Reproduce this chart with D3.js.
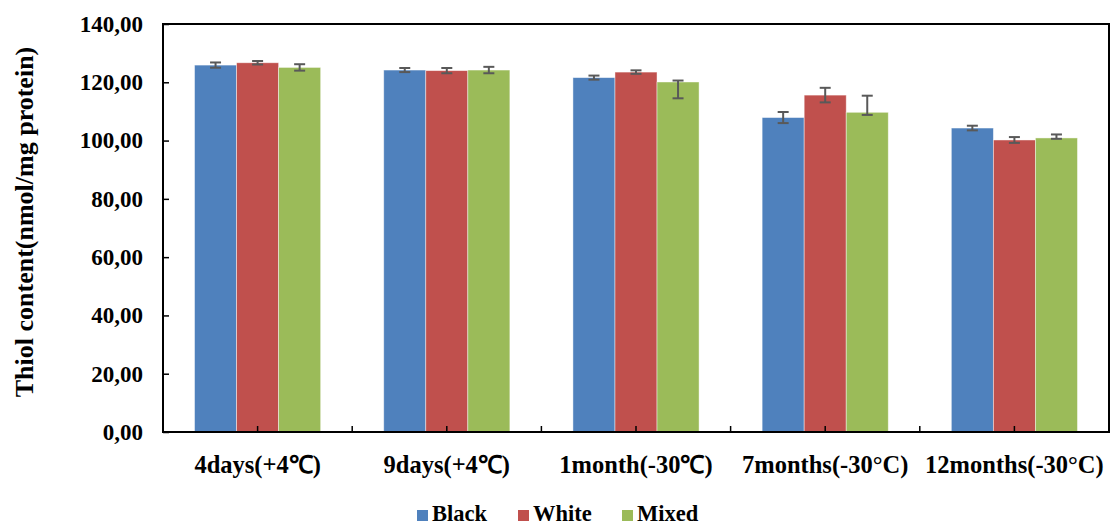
<!DOCTYPE html>
<html>
<head>
<meta charset="utf-8">
<script src="https://cdn.jsdelivr.net/npm/d3@7"></script>
<style>
  html, body { margin: 0; padding: 0; background: #fff; }
  svg { display: block; font-family: "Liberation Serif", "Times New Roman", serif; font-weight: bold; }
</style>
</head>
<body>
<svg id="chart" width="1113" height="526"></svg>
<script>
// Storage conditions (x categories)
const categories = ["4days(+4℃)", "9days(+4℃)", "1month(-30℃)", "7months(-30°C)", "12months(-30°C)"];
const seriesNames = ["Black", "White", "Mixed"];
const seriesColors = ["#4F81BD", "#C0504D", "#9BBB59"];

// Thiol content, nmol/mg protein
const blackValues = [125.9, 124.2, 121.6, 107.9, 104.3];
const whiteValues = [126.7, 124.0, 123.5, 115.6, 100.2];
const mixedValues = [125.1, 124.2, 120.1, 109.7, 100.9];

// Error bar extents above / below each mean
const blackErrUp   = [0.9, 0.7, 0.7, 1.9, 0.8];
const blackErrDown = [0.9, 0.7, 0.7, 1.9, 0.8];
const whiteErrUp   = [0.6, 0.9, 0.6, 2.5, 1.0];
const whiteErrDown = [0.6, 0.9, 0.6, 2.5, 1.0];
const mixedErrUp   = [1.1, 1.1, 0.5, 5.7, 1.2];
const mixedErrDown = [1.1, 1.1, 5.6, 0.9, 0.3];

const yTickValues = [0, 20, 40, 60, 80, 100, 120, 140];
const yTitle = "Thiol content(nmol/mg protein)";

const seriesValues = [blackValues, whiteValues, mixedValues];
const seriesUp = [blackErrUp, whiteErrUp, mixedErrUp];
const seriesDown = [blackErrDown, whiteErrDown, mixedErrDown];

const svg = d3.select("#chart");
const plot = { left: 163, right: 1109, top: 24, bottom: 432 };

const x0 = d3.scaleBand().domain(categories).range([plot.left, plot.right]).padding(0);
const bw = x0.bandwidth();
const x1 = d3.scaleBand().domain(seriesNames).range([bw / 6, bw * 5 / 6]).padding(0);
const y = d3.scaleLinear().domain([0, 140]).range([plot.bottom, plot.top]);

const rows = [];
categories.forEach((c, i) => {
  seriesNames.forEach((s, j) => {
    rows.push({ cat: c, series: s, color: seriesColors[j],
      value: seriesValues[j][i], up: seriesUp[j][i], down: seriesDown[j][i] });
  });
});

// Bars
svg.append("g").selectAll("rect").data(rows).join("rect")
  .attr("x", d => x0(d.cat) + x1(d.series))
  .attr("y", d => y(d.value))
  .attr("width", x1.bandwidth())
  .attr("height", d => y(0) - y(d.value))
  .attr("fill", d => d.color)
  .attr("stroke", "rgba(255,255,255,0.55)")
  .attr("stroke-width", 0.8);

// Error bars
const capHalf = 5.5;
const eb = svg.append("g").attr("stroke", "#595959").attr("stroke-width", 2).attr("fill", "none");
rows.forEach(d => {
  const cx = x0(d.cat) + x1(d.series) + x1.bandwidth() / 2;
  const yt = y(d.value + d.up), yb = y(d.value - d.down);
  eb.append("line").attr("x1", cx).attr("x2", cx).attr("y1", yt).attr("y2", yb);
  eb.append("line").attr("x1", cx - capHalf).attr("x2", cx + capHalf).attr("y1", yt).attr("y2", yt);
  eb.append("line").attr("x1", cx - capHalf).attr("x2", cx + capHalf).attr("y1", yb).attr("y2", yb);
});

// Plot frame
svg.append("rect")
  .attr("x", plot.left).attr("y", plot.top)
  .attr("width", plot.right - plot.left).attr("height", plot.bottom - plot.top)
  .attr("fill", "none").attr("stroke", "#000").attr("stroke-width", 2);

// Y axis: inward ticks, labels to the left
const yAxis = d3.axisLeft(y).tickValues(yTickValues).tickSize(-6).tickPadding(20)
  .tickFormat(d => d3.format(".2f")(d).replace(".", ","));
const gy = svg.append("g").attr("transform", `translate(${plot.left},0)`).call(yAxis);
gy.select(".domain").remove();
gy.selectAll(".tick line").attr("stroke", "#000").attr("stroke-width", 1.5);
gy.selectAll(".tick text")
  .attr("fill", "#000").attr("font-size", 23).attr("font-family", "Liberation Serif").attr("font-weight", "bold")
  .attr("x", -20);

// X axis: category labels plus inward ticks at half-category steps
const xAxis = d3.axisBottom(x0).tickSize(0).tickPadding(19);
const gx = svg.append("g").attr("transform", `translate(0,${plot.bottom})`).call(xAxis);
gx.select(".domain").remove();
gx.selectAll(".tick text")
  .attr("fill", "#000").attr("font-size", 24.5).attr("font-family", "Liberation Serif").attr("font-weight", "bold")
  .attr("dy", "0.9em");

const halfTicks = [];
categories.forEach((c, i) => {
  halfTicks.push(x0(c) + bw / 2);
  if (i < categories.length - 1) halfTicks.push(x0(c) + bw);
});
svg.append("g").selectAll("line").data(halfTicks).join("line")
  .attr("x1", d => d).attr("x2", d => d)
  .attr("y1", plot.bottom).attr("y2", plot.bottom - 6)
  .attr("stroke", "#000").attr("stroke-width", 1.5);

// Y axis title
svg.append("text")
  .attr("transform", `translate(33,222) rotate(-90)`)
  .attr("text-anchor", "middle")
  .attr("font-size", 26)
  .text(yTitle);

// Legend
const legendItems = [
  { name: "Black", x: 417 },
  { name: "White", x: 518 },
  { name: "Mixed", x: 622 }
];
const lg = svg.append("g");
legendItems.forEach((item, i) => {
  lg.append("rect").attr("x", item.x).attr("y", 510).attr("width", 11).attr("height", 11)
    .attr("fill", seriesColors[i]);
  lg.append("text").attr("x", item.x + 15).attr("y", 521).attr("font-size", 22.5).text(item.name);
});
</script>
</body>
</html>
